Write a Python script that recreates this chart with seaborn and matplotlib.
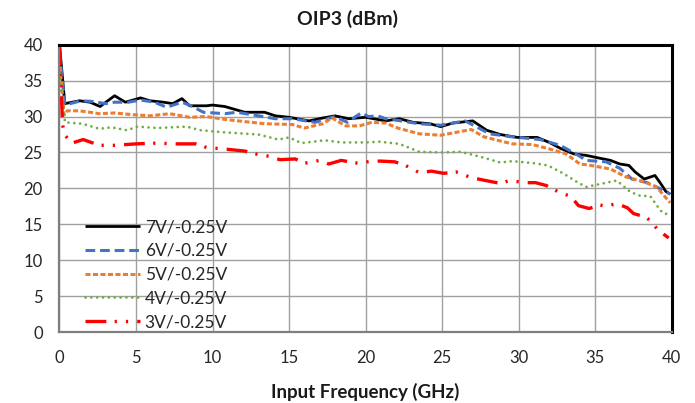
import matplotlib
matplotlib.use("Agg")
import matplotlib.pyplot as plt
import seaborn as sns
import pandas as pd

# ---------------- data ----------------
f_7v = [0, 0.35, 1.3, 2.0, 2.65, 3.6, 4.3, 5.3, 5.9, 6.8, 7.4, 8.0, 8.5, 9.6, 10.0,
        10.8, 12.1, 13.4, 14.1, 15.0, 16.3, 17.2, 18.0, 18.9, 20.0, 21.3, 22.2, 23.1,
        24.2, 24.9, 25.7, 27.0, 27.9, 28.8, 29.9, 31.2, 32.0, 32.7, 33.6, 34.4, 35.3,
        36.0, 36.6, 37.2, 37.6, 38.2, 38.9, 39.3, 39.6, 39.9]
oip3_7v = [40, 31.8, 32.2, 32.0, 31.4, 32.9, 32.0, 32.6, 32.2, 32.0, 31.8, 32.5, 31.5,
           31.5, 31.6, 31.4, 30.6, 30.6, 30.1, 29.9, 29.4, 29.8, 30.1, 29.7, 29.9, 29.4,
           29.7, 29.2, 29.0, 28.6, 29.1, 29.4, 28.1, 27.5, 27.1, 27.1, 26.4, 25.6, 24.8,
           24.6, 24.2, 23.9, 23.4, 23.2, 22.3, 21.3, 21.8, 20.6, 19.6, 19.2]

f_6v = [0, 0.35, 1.4, 2.2, 3.0, 3.6, 4.5, 5.3, 6.2, 7.0, 8.0, 8.6, 9.4, 10.8, 11.6,
        13.0, 14.1, 15.2, 16.7, 18.0, 18.8, 19.7, 20.2, 20.8, 21.3, 22.0, 23.5, 24.9,
        25.7, 26.5, 28.1, 29.5, 31.4, 32.7, 33.9, 34.4, 35.7, 36.6, 37.4, 38.4, 39.2, 39.9]
oip3_6v = [39, 31.6, 32.2, 32.1, 31.8, 32.0, 32.0, 32.3, 32.0, 31.3, 32.0, 31.5, 30.6,
           30.4, 30.6, 30.1, 29.7, 29.7, 29.2, 30.0, 29.2, 30.5, 30.0, 30.1, 29.7, 29.5,
           29.0, 28.8, 29.1, 29.4, 27.6, 27.2, 26.8, 26.0, 24.6, 23.9, 23.7, 22.8, 21.3,
           20.8, 20.0, 19.2]

f_5v = [0, 0.3, 0.5, 1.3, 2.0, 2.6, 3.6, 4.6, 5.9, 7.2, 8.5, 9.6, 10.8, 12.1, 13.4,
        15.2, 16.0, 17.2, 17.8, 18.7, 19.6, 20.4, 21.3, 22.1, 23.5, 24.9, 26.4, 26.9,
        27.7, 28.8, 29.6, 30.9, 32.0, 33.1, 34.0, 34.7, 36.0, 37.0, 38.2, 39.0, 39.9]
oip3_5v = [38, 30.2, 30.8, 30.8, 30.6, 30.4, 30.5, 30.3, 30.1, 30.4, 29.9, 30.0, 29.6,
           29.3, 29.0, 28.9, 28.4, 29.0, 29.8, 28.7, 28.7, 29.2, 29.1, 28.4, 27.6, 27.4,
           28.0, 28.2, 27.2, 26.6, 26.2, 26.1, 25.5, 24.8, 23.4, 23.2, 22.7, 21.6, 20.9,
           20.2, 18.0]

f_4v = [0, 0.36, 1.5, 2.6, 3.4, 4.4, 5.1, 6.4, 7.3, 8.3, 9.2, 10.8, 13.0, 14.3, 15.0,
        15.8, 17.3, 18.4, 20.0, 20.9, 22.2, 23.5, 24.9, 26.2, 27.5, 28.8, 29.6, 31.0,
        31.9, 32.9, 33.8, 34.4, 35.3, 36.4, 37.3, 37.9, 38.6, 39.1, 39.4, 39.9]
oip3_4v = [36, 29.2, 29.0, 28.3, 28.5, 28.1, 28.6, 28.4, 28.5, 28.6, 28.1, 27.8, 27.5,
           26.8, 27.1, 26.3, 26.7, 26.4, 26.4, 26.5, 26.2, 25.1, 25.0, 25.1, 24.4, 23.6,
           23.8, 23.5, 23.2, 22.1, 20.9, 20.2, 20.6, 21.1, 19.5, 19.0, 18.9, 17.4, 16.6,
           16.3]

f_3v = [0, 0.2, 0.4, 0.8, 1.55, 2.6, 3.6, 5.0, 6.3, 7.7, 8.9, 9.6, 10.7, 12.1, 13.0,
        13.6, 14.4, 15.4, 16.0, 17.0, 17.6, 18.4, 19.5, 20.4, 21.0, 21.9, 22.6, 23.5,
        24.3, 25.1, 25.9, 26.9, 28.3, 28.8, 29.4, 30.4, 31.1, 31.8, 32.7, 33.4, 33.9,
        34.6, 35.3, 35.7, 36.4, 37.1, 37.5, 38.3, 38.6, 39.1, 39.8]
oip3_3v = [40, 28.8, 27.3, 26.3, 26.8, 26.0, 26.0, 26.2, 26.3, 26.2, 26.2, 25.7, 25.5,
           25.2, 24.7, 24.5, 24.0, 24.1, 23.5, 23.9, 23.4, 23.9, 23.5, 23.8, 23.8, 23.7,
           23.2, 22.2, 22.4, 22.1, 22.3, 21.5, 20.9, 20.7, 21.1, 20.8, 20.8, 20.4, 19.4,
           18.9, 17.6, 17.2, 17.7, 17.5, 17.9, 17.3, 16.5, 16.0, 15.5, 14.2, 13.1]

labels = ["7V/-0.25V", "6V/-0.25V", "5V/-0.25V", "4V/-0.25V", "3V/-0.25V"]
x_ticks = [0, 5, 10, 15, 20, 25, 30, 35, 40]
y_ticks = [0, 5, 10, 15, 20, 25, 30, 35, 40]

series = [(f_7v, oip3_7v), (f_6v, oip3_6v), (f_5v, oip3_5v), (f_4v, oip3_4v), (f_3v, oip3_3v)]

# ---------------- styling ----------------
sns.set_theme(style="white")
plt.rcParams["font.family"] = ["Lato", "DejaVu Sans"]
plt.rcParams["lines.scale_dashes"] = False

colors = ["#000000", "#4472C4", "#ED7D31", "#70AD47", "#FF0000"]
widths = [2.0, 2.2, 2.2, 2.0, 2.4]
dash_patterns = [None, (7, 3.5), (3.6, 1.8), (0.01, 4.2), (15, 6, 1.6, 6.5, 1.6, 6.5)]
caps = ["round", "butt", "butt", "round", "butt"]

fig = plt.figure(figsize=(6.95, 4.03), dpi=100)
ax = fig.add_axes([0.0856, 0.176, 0.881, 0.713])

for (fx, fy), lab, c, w, d, cap in zip(series, labels, colors, widths, dash_patterns, caps):
    df = pd.DataFrame({"freq": fx, "oip3": fy})
    sns.lineplot(data=df, x="freq", y="oip3", ax=ax, color=c, linewidth=w,
                 label=lab, estimator=None, sort=False)
    ln = ax.lines[-1]
    if d is not None:
        ln.set_dashes(d)
    ln.set_dash_capstyle(cap)
    ln.set_solid_capstyle("butt")

ax.set_xlim(0, 40)
ax.set_ylim(0, 40)
ax.set_xticks(x_ticks)
ax.set_yticks(y_ticks)
ax.tick_params(axis="both", length=0, labelsize=12, colors="#262626")
ax.tick_params(axis="x", pad=13)
ax.tick_params(axis="y", pad=12)
ax.grid(True, color="#A0A0A0", linewidth=1.0)
ax.set_axisbelow(True)

for s in ["top", "right"]:
    ax.spines[s].set_color("black")
    ax.spines[s].set_linewidth(2.2)
for s in ["left", "bottom"]:
    ax.spines[s].set_color("#7F7F7F")
    ax.spines[s].set_linewidth(1.6)

fig.text(0.5, 0.953, "OIP3 (dBm)", fontsize=14, fontweight="bold",
         ha="center", va="center", color="#1a1a1a")
ax.set_xlabel("Input Frequency (GHz)", fontsize=13.5, fontweight="bold", labelpad=12,
              color="#1a1a1a")
ax.set_ylabel("")

leg = ax.legend(loc="lower left", bbox_to_anchor=(0.033, -0.012), frameon=False,
                fontsize=12.5, handlelength=3.2, handletextpad=0.25, labelspacing=0.45,
                borderaxespad=0, borderpad=0.3)
for t in leg.get_texts():
    t.set_color("#262626")

fig.savefig("out.png", dpi=100)
